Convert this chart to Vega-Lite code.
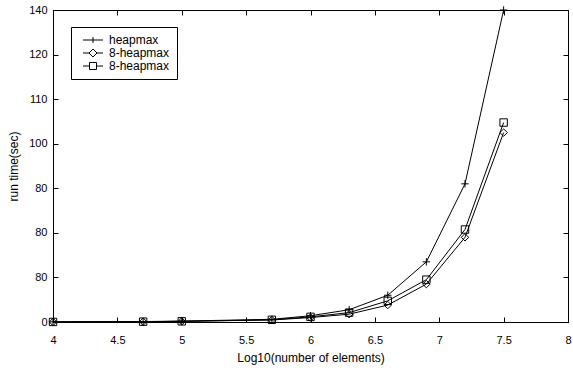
{
  "$schema": "https://vega.github.io/schema/vega-lite/v6.json",
  "width": 515,
  "height": 312,
  "autosize": "none",
  "padding": {"left": 53, "top": 10, "right": 5, "bottom": 49},
  "background": "white",
  "config": {
    "view": {"stroke": "black", "strokeWidth": 1},
    "font": "Liberation Sans",
    "axis": {
      "grid": false,
      "domainColor": "black",
      "tickColor": "black",
      "labelColor": "black",
      "titleColor": "black",
      "labelFont": "Liberation Sans",
      "titleFont": "Liberation Sans",
      "labelFontSize": 11,
      "titleFontSize": 12,
      "titleFontWeight": "normal",
      "labelFlush": false,
      "labelOverlap": false,
      "tickSize": -5
    }
  },
  "data": {
    "values": [
      {"x": 4, "t": 0.05, "s": "h"},
      {"x": 4.7, "t": 0.2, "s": "h"},
      {"x": 5, "t": 0.4, "s": "h"},
      {"x": 5.7, "t": 1.2, "s": "h"},
      {"x": 6, "t": 2.8, "s": "h"},
      {"x": 6.3, "t": 5.5, "s": "h"},
      {"x": 6.6, "t": 12, "s": "h"},
      {"x": 6.9, "t": 27, "s": "h"},
      {"x": 7.2, "t": 62, "s": "h"},
      {"x": 7.5, "t": 140, "s": "h"},
      {"x": 4, "t": 0.03, "s": "d"},
      {"x": 4.7, "t": 0.15, "s": "d"},
      {"x": 5, "t": 0.3, "s": "d"},
      {"x": 5.7, "t": 0.9, "s": "d"},
      {"x": 6, "t": 2.0, "s": "d"},
      {"x": 6.3, "t": 3.5, "s": "d"},
      {"x": 6.6, "t": 7.6, "s": "d"},
      {"x": 6.9, "t": 17, "s": "d"},
      {"x": 7.2, "t": 38, "s": "d"},
      {"x": 7.5, "t": 85, "s": "d"},
      {"x": 4, "t": 0.03, "s": "q"},
      {"x": 4.7, "t": 0.15, "s": "q"},
      {"x": 5, "t": 0.3, "s": "q"},
      {"x": 5.7, "t": 1.0, "s": "q"},
      {"x": 6, "t": 2.3, "s": "q"},
      {"x": 6.3, "t": 4.2, "s": "q"},
      {"x": 6.6, "t": 9.5, "s": "q"},
      {"x": 6.9, "t": 19, "s": "q"},
      {"x": 7.2, "t": 41.5, "s": "q"},
      {"x": 7.5, "t": 89.5, "s": "q"}
    ]
  },
  "layer": [
    {
      "mark": {"type": "line", "color": "black", "strokeWidth": 1},
      "encoding": {
        "x": {"field": "x", "type": "quantitative", "scale": {"domain": [4, 8], "nice": false, "zero": false},
              "axis": {"title": "Log10(number of elements)", "values": [4, 4.5, 5, 5.5, 6, 6.5, 7, 7.5, 8], "labelExpr": "format(datum.value, '~g')", "labelPadding": 17, "titlePadding": 7}},
        "y": {"field": "t", "type": "quantitative", "scale": {"domain": [0, 140], "nice": false},
              "axis": {"title": "run time(sec)", "values": [0, 20, 40, 60, 80, 100, 120, 140],
                       "labelExpr": "datum.value == 0 ? '0' : datum.value == 20 || datum.value == 40 || datum.value == 60 ? '80' : datum.value == 80 ? '100' : datum.value == 100 ? '110' : datum.value == 120 ? '120' : '140'",
                       "labelPadding": 11, "titlePadding": 8}},
        "detail": {"field": "s"}
      }
    },
    {
      "mark": {"type": "point", "color": "black", "filled": false, "strokeWidth": 1, "opacity": 1, "size": 55},
      "encoding": {
        "x": {"field": "x", "type": "quantitative",
              "axis": {"orient": "top", "labels": false, "title": null, "values": [4, 4.5, 5, 5.5, 6, 6.5, 7, 7.5, 8]}},
        "y": {"field": "t", "type": "quantitative",
              "axis": {"orient": "right", "labels": false, "title": null, "values": [0, 20, 40, 60, 80, 100, 120, 140]}},
        "shape": {"field": "s", "type": "nominal",
                  "scale": {"domain": ["h", "d", "q"], "range": ["M-1,0H1M0,-1V1", "diamond", "square"]},
                  "legend": null}
      }
    },
    {
      "transform": [{"filter": "datum.x > 100"}],
      "mark": {"type": "point", "color": "black", "filled": false, "strokeWidth": 1, "opacity": 1},
      "encoding": {
        "shape": {"field": "s", "type": "nominal",
                  "scale": {"domain": ["h", "d", "q"],
                            "range": ["M-2.5,0H2.5M0,-0.75V0.75",
                                      "M-2.5,0H-1M1,0H2.5M0,-1L1,0L0,1L-1,0Z",
                                      "M-2.5,0H-0.875M0.875,0H2.5M-0.875,-0.875H0.875V0.875H-0.875Z"]},
                  "legend": {
                    "title": null,
                    "orient": "none",
                    "legendX": 18,
                    "legendY": 17,
                    "strokeColor": "black",
                    "fillColor": "white",
                    "padding": 7,
                    "symbolSize": 64,
                    "symbolOffset": 9,
                    "labelOffset": 10,
                    "symbolStrokeColor": "black",
                    "symbolStrokeWidth": 1,
                    "symbolFillColor": "transparent",
                    "labelFont": "Liberation Sans",
                    "labelFontSize": 12,
                    "labelColor": "black",
                    "rowPadding": 1,
                    "labelExpr": "datum.value == 'h' ? 'heapmax' : '8-heapmax'"
                  }}
      }
    }
  ],
  "resolve": {"axis": {"x": "independent", "y": "independent"}, "scale": {"shape": "independent"}}
}
